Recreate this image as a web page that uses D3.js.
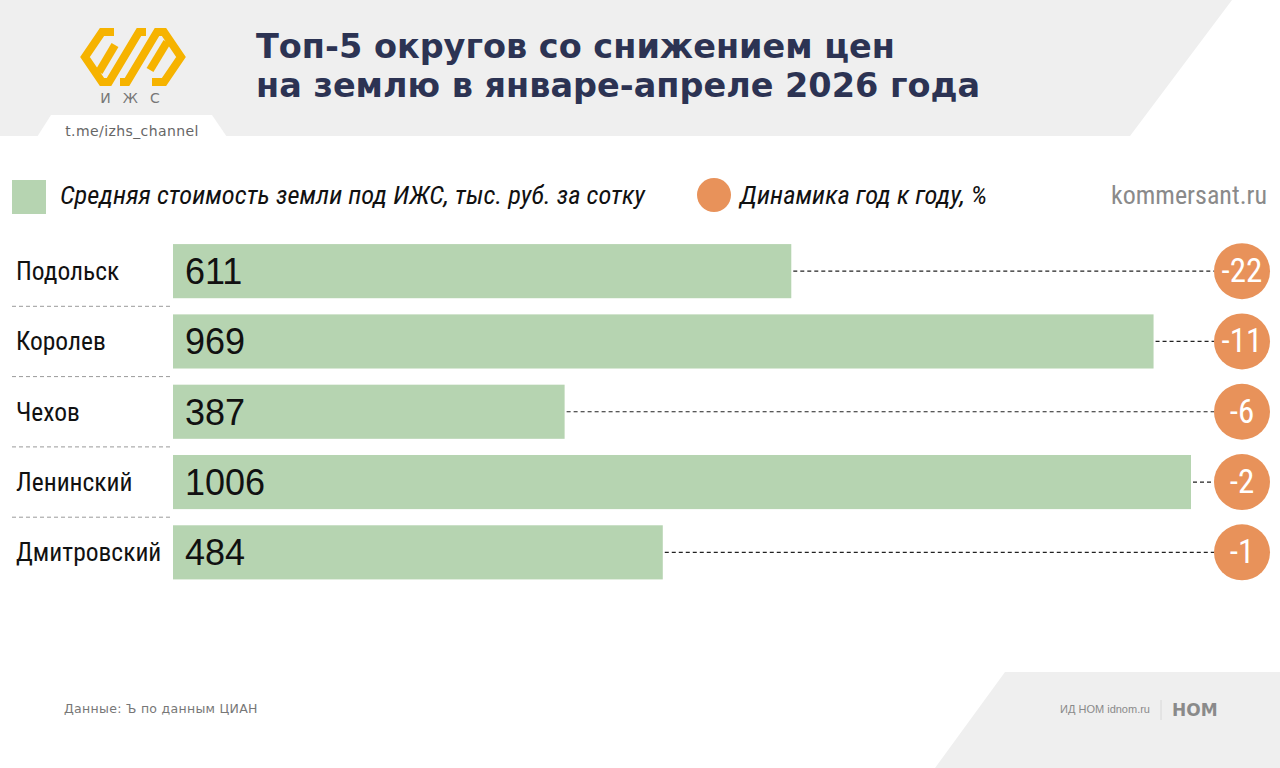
<!DOCTYPE html>
<html>
<head>
<meta charset="utf-8">
<script src="https://cdn.jsdelivr.net/npm/d3@7"></script>
<style>
  html, body { margin: 0; padding: 0; background: #fff; }
  svg { display: block; }
</style>
</head>
<body>
<div class="container-chart"></div>
<script>
// data
const categories = ['Подольск', 'Королев', 'Чехов', 'Ленинский', 'Дмитровский'];
const prices = [611, 969, 387, 1006, 484];
const changes = [-22, -11, -6, -2, -1];

const titleLines = ['Топ-5 округов со снижением цен', 'на землю в январе-апреле 2026 года'];
const legendPrice = 'Средняя стоимость земли под ИЖС, тыс. руб. за сотку';
const legendChange = 'Динамика год к году, %';
const sourceText = 'Данные: Ъ по данным ЦИАН';

const width = 1280;
const height = 768;

const colorBar = '#b6d4b1';
const colorDot = '#e8925a';
const colorTitle = '#2c3353';
const narrow = '"Liberation Sans Narrow", "Roboto Condensed", "Arial Narrow", sans-serif';

const svg = d3.select('.container-chart')
  .append('svg')
  .attr('xmlns', 'http://www.w3.org/2000/svg')
  .attr('width', width)
  .attr('height', height);

// header background
svg.append('path')
  .attr('d', 'M0,0 L1232,0 L1130,136 L0,136 Z')
  .attr('fill', '#efefef');

// channel tab
svg.append('path')
  .attr('d', 'M37,137 L51,115 L212,115 L227,137 Z')
  .attr('fill', '#fff');

svg.append('text')
  .attr('x', 132)
  .attr('y', 136)
  .attr('text-anchor', 'middle')
  .attr('font-family', '"DejaVu Sans", sans-serif')
  .attr('font-size', 14)
  .attr('fill', '#666')
  .attr('letter-spacing', 0.4)
  .text('t.me/izhs_channel');

// logo
const groupLogo = svg.append('g')
  .attr('fill', 'none')
  .attr('stroke', '#f6b300')
  .attr('stroke-width', 8)
  .attr('stroke-linejoin', 'miter');

groupLogo.append('path').attr('d', 'M114,32 L102,32 L85,57 L102,82 L109,82 L139,32 L146,32');
groupLogo.append('path').attr('d', 'M152,82 L164,82 L181,57 L164,32 L157,32 L127,82 L120,82');
groupLogo.append('path').attr('d', 'M99,72 L115,45');
groupLogo.append('path').attr('d', 'M167,42 L150,70');

svg.append('text')
  .attr('x', 136)
  .attr('y', 103)
  .attr('text-anchor', 'middle')
  .attr('font-family', '"DejaVu Sans", sans-serif')
  .attr('font-size', 14)
  .attr('fill', '#777')
  .attr('letter-spacing', 12)
  .text('ИЖС');

// title
svg.append('text')
  .attr('font-family', '"DejaVu Sans", sans-serif')
  .attr('font-weight', 700)
  .attr('font-size', 33.5)
  .attr('fill', colorTitle)
  .selectAll('tspan')
  .data(titleLines)
  .enter()
  .append('tspan')
  .attr('x', 256)
  .attr('y', (d, i) => 58 + i * 39)
  .text(d => d);

// legend
svg.append('rect')
  .attr('x', 12).attr('y', 180)
  .attr('width', 34).attr('height', 34)
  .attr('fill', colorBar);

svg.append('text')
  .attr('x', 60).attr('y', 204)
  .attr('font-family', narrow)
  .attr('font-style', 'italic')
  .attr('font-size', 26.5)
  .attr('fill', '#111')
  .text(legendPrice);

svg.append('circle')
  .attr('cx', 714).attr('cy', 195).attr('r', 17)
  .attr('fill', colorDot);

svg.append('text')
  .attr('x', 740).attr('y', 204)
  .attr('font-family', narrow)
  .attr('font-style', 'italic')
  .attr('font-size', 26.5)
  .attr('fill', '#111')
  .text(legendChange);

svg.append('text')
  .attr('x', 1267).attr('y', 204)
  .attr('text-anchor', 'end')
  .attr('font-family', narrow)
  .attr('font-size', 26)
  .attr('fill', '#8a8a8a')
  .text('kommersant.ru');

// scales
const scaleX = d3.scaleLinear()
  .domain([0, d3.max(prices)])
  .range([173, 1191]);

const scaleY = d3.scaleBand()
  .domain(categories)
  .range([236, 587.5])
  .paddingInner(0.23)
  .paddingOuter(0.115);

const rows = categories.map((name, i) => ({ name, price: prices[i], change: changes[i] }));
const dotX = 1242;
const dotR = 28;

const groupChart = svg.append('g').attr('class', 'group-chart');

// separators under labels
groupChart.selectAll('line.sep')
  .data(rows.slice(0, -1))
  .enter()
  .append('line')
  .attr('class', 'sep')
  .attr('x1', 12).attr('x2', 172)
  .attr('y1', d => scaleY(d.name) + scaleY.bandwidth() + (scaleY.step() - scaleY.bandwidth()) / 2)
  .attr('y2', d => scaleY(d.name) + scaleY.bandwidth() + (scaleY.step() - scaleY.bandwidth()) / 2)
  .attr('stroke', '#9a9a9a')
  .attr('stroke-width', 1)
  .attr('stroke-dasharray', '4,3');

// bars
groupChart.selectAll('rect.bar')
  .data(rows)
  .enter()
  .append('rect')
  .attr('class', 'bar')
  .attr('x', scaleX(0))
  .attr('y', d => scaleY(d.name))
  .attr('width', d => scaleX(d.price) - scaleX(0))
  .attr('height', scaleY.bandwidth())
  .attr('fill', colorBar);

// connectors
groupChart.selectAll('line.link')
  .data(rows)
  .enter()
  .append('line')
  .attr('class', 'link')
  .attr('x1', d => scaleX(d.price) + 2)
  .attr('x2', dotX - dotR)
  .attr('y1', d => scaleY(d.name) + scaleY.bandwidth() / 2)
  .attr('y2', d => scaleY(d.name) + scaleY.bandwidth() / 2)
  .attr('stroke', '#222')
  .attr('stroke-width', 1.2)
  .attr('stroke-dasharray', '4,3');

// category labels
groupChart.selectAll('text.cat')
  .data(rows)
  .enter()
  .append('text')
  .attr('class', 'cat')
  .attr('x', 16)
  .attr('y', d => scaleY(d.name) + scaleY.bandwidth() / 2 + 9)
  .attr('font-family', narrow)
  .attr('font-size', 25.5)
  .attr('fill', '#111')
  .text(d => d.name);

// values in bars
groupChart.selectAll('text.val')
  .data(rows)
  .enter()
  .append('text')
  .attr('class', 'val')
  .attr('x', scaleX(0) + 12)
  .attr('y', d => scaleY(d.name) + scaleY.bandwidth() / 2 + 13)
  .attr('font-family', '"Liberation Sans", Arial, sans-serif')
  .attr('font-size', 36)
  .attr('fill', '#111')
  .text(d => d.price);

// change dots
groupChart.selectAll('circle.dot')
  .data(rows)
  .enter()
  .append('circle')
  .attr('class', 'dot')
  .attr('cx', dotX)
  .attr('cy', d => scaleY(d.name) + scaleY.bandwidth() / 2)
  .attr('r', dotR)
  .attr('fill', colorDot);

groupChart.selectAll('text.chg')
  .data(rows)
  .enter()
  .append('text')
  .attr('class', 'chg')
  .attr('x', dotX)
  .attr('y', d => scaleY(d.name) + scaleY.bandwidth() / 2 + 11)
  .attr('text-anchor', 'middle')
  .attr('font-family', narrow)
  .attr('font-size', 33)
  .attr('fill', '#fff')
  .text(d => d.change);

// footer
svg.append('path')
  .attr('d', 'M1005,672 L1280,672 L1280,768 L935,768 Z')
  .attr('fill', '#efefef');

svg.append('text')
  .attr('x', 64).attr('y', 713)
  .attr('font-family', '"DejaVu Sans", sans-serif')
  .attr('font-size', 12.5)
  .attr('letter-spacing', 0.3)
  .attr('fill', '#777')
  .text(sourceText);

svg.append('text')
  .attr('x', 1150).attr('y', 713)
  .attr('text-anchor', 'end')
  .attr('font-family', '"Liberation Sans", Arial, sans-serif')
  .attr('font-size', 11)
  .attr('fill', '#8a8a8a')
  .text('ИД НОМ idnom.ru');

svg.append('line')
  .attr('x1', 1161).attr('x2', 1161)
  .attr('y1', 700).attr('y2', 720)
  .attr('stroke', '#d8d8d8');

svg.append('text')
  .attr('x', 1172).attr('y', 716)
  .attr('font-family', '"DejaVu Sans", sans-serif')
  .attr('font-weight', 700)
  .attr('font-size', 17)
  .attr('fill', '#8a8a8a')
  .text('НОМ');
</script>
</body>
</html>
